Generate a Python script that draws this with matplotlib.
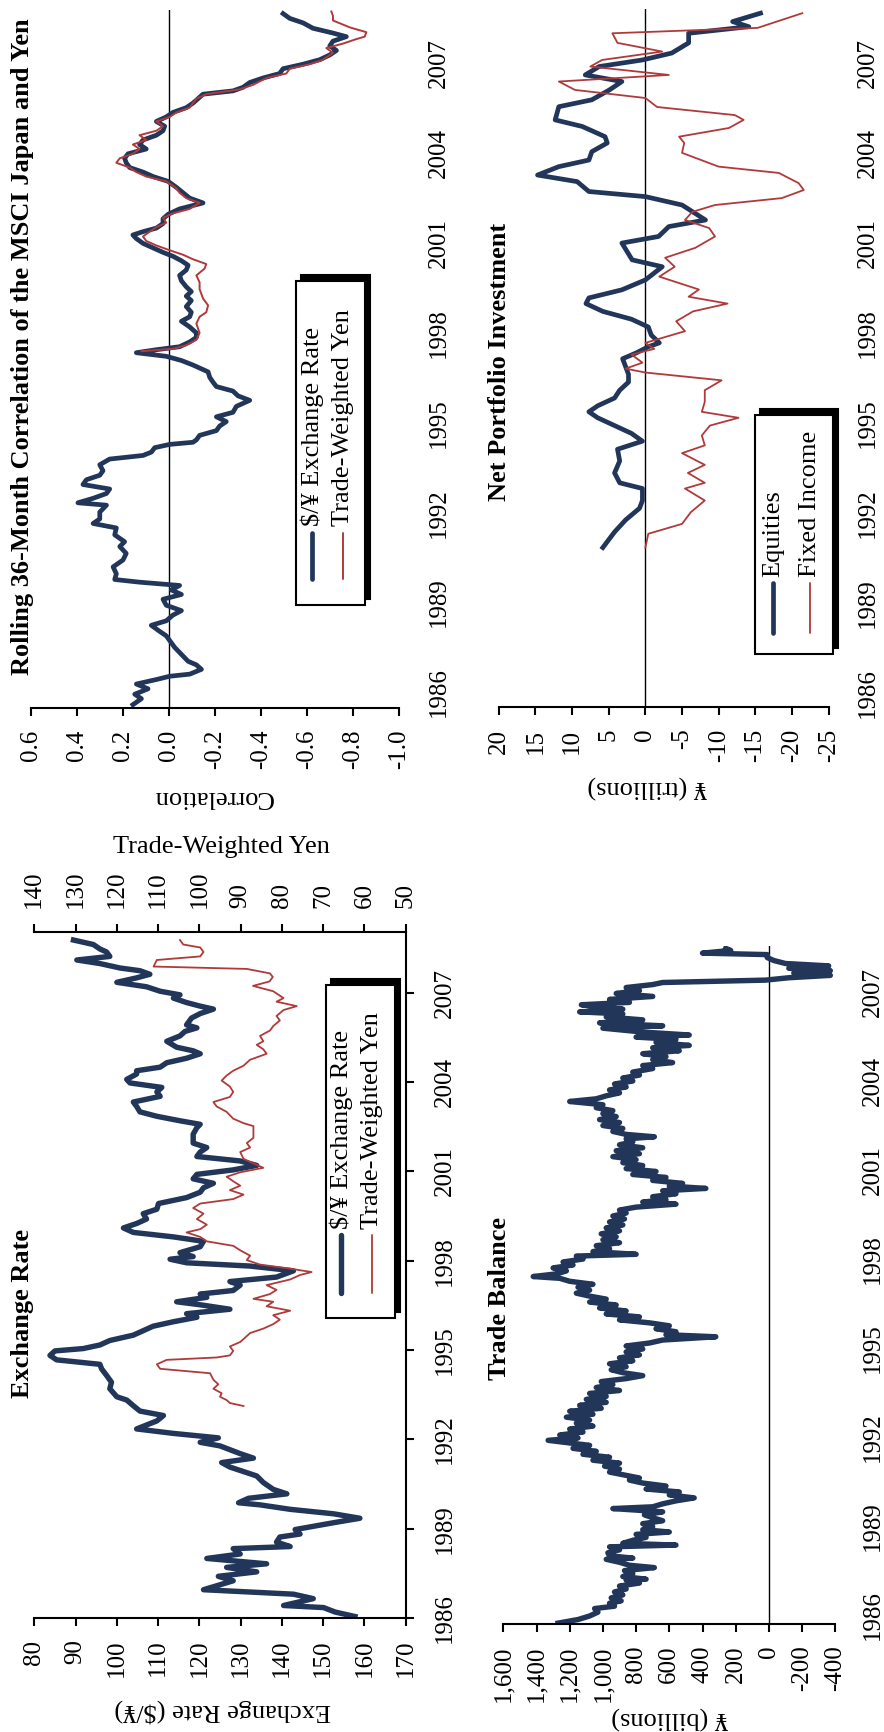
"""Japan dashboard: exchange rate, correlation, trade balance, portfolio flows.

The page is laid out in portrait, so every panel is drawn sideways:
dates run up the page and the value axes run across it.
"""

import matplotlib

matplotlib.use("Agg")
import matplotlib.pyplot as plt
from matplotlib.lines import Line2D
from matplotlib.patches import Rectangle

plt.rcParams["font.family"] = ["Liberation Serif", "DejaVu Serif"]
plt.rcParams["axes.unicode_minus"] = False

W, H = 884, 1732
NAVY = "#22365a"
RED = "#b03a3a"
YEARS = [1986, 1989, 1992, 1995, 1998, 2001, 2004, 2007]

# ---- Exchange rate ($/yen) and trade-weighted yen -------------------------
er_dates = [
    1986.05, 1986.20, 1986.35, 1986.42, 1986.65, 1986.80, 1986.95, 1987.25, 1987.40, 1987.55,
    1987.70, 1987.82, 1988.00, 1988.15, 1988.33, 1988.40, 1988.55, 1988.72, 1988.82, 1988.97,
    1989.20, 1989.35, 1989.50, 1989.65, 1989.80, 1989.87, 1990.02, 1990.17, 1990.32, 1990.55,
    1990.77, 1991.07, 1991.22, 1991.37, 1991.52, 1991.78, 1991.90, 1992.05, 1992.20, 1992.35,
    1992.62, 1992.80, 1992.95, 1993.13, 1993.32, 1993.43, 1993.70, 1993.92, 1994.15, 1994.37,
    1994.52, 1994.67, 1994.82, 1994.97, 1995.05, 1995.17, 1995.32, 1995.50, 1995.65, 1995.80,
    1995.95, 1996.10, 1996.22, 1996.37, 1996.52, 1996.62, 1996.77, 1996.88, 1997.00, 1997.18,
    1997.30, 1997.45, 1997.66, 1997.82, 1997.93, 1998.05, 1998.14, 1998.27, 1998.47, 1998.65,
    1998.80, 1998.95, 1999.10, 1999.25, 1999.40, 1999.58, 1999.73, 1999.92, 2000.12, 2000.30,
    2000.45, 2000.60, 2000.75, 2000.90, 2001.05, 2001.20, 2001.35, 2001.50, 2001.65, 2001.80,
    2001.95, 2002.25, 2002.47, 2002.58, 2002.70, 2002.85, 2003.00, 2003.18, 2003.33, 2003.52,
    2003.67, 2003.82, 2003.97, 2004.09, 2004.27, 2004.38, 2004.50, 2004.65, 2004.80, 2004.95,
    2005.05, 2005.17, 2005.37, 2005.55, 2005.70, 2005.82, 2005.92, 2006.15, 2006.30, 2006.45,
    2006.55, 2006.67, 2006.82, 2006.93, 2007.05, 2007.20, 2007.35, 2007.50, 2007.62, 2007.74,
    2007.83, 2007.98, 2008.10, 2008.22, 2008.37, 2008.47, 2008.62, 2008.77,
]
er_rate = [
    157.7, 152.9, 150.1, 140.4, 147.6, 142.8, 121.0, 128.2, 124.6, 133.9,
    126.6, 136.3, 121.8, 129.9, 128.2, 142.0, 138.7, 139.5, 144.4, 143.2,
    152.5, 158.9, 152.5, 142.0, 134.7, 129.5, 131.9, 141.2, 137.9, 135.5,
    133.9, 127.4, 125.4, 133.1, 129.9, 125.0, 120.2, 124.6, 113.7, 104.8,
    109.7, 111.3, 105.6, 104.0, 102.4, 100.0, 98.3, 98.7, 97.5, 96.3,
    95.9, 85.4, 83.8, 85.0, 91.9, 95.9, 98.3, 104.0, 106.4, 108.8,
    113.7, 119.4, 116.9, 127.4, 120.2, 114.5, 121.8, 120.2, 128.2, 129.9,
    127.4, 138.7, 142.8, 132.3, 116.9, 112.9, 118.5, 115.3, 120.2, 121.0,
    113.7, 104.0, 101.6, 104.8, 107.2, 106.4, 109.7, 110.1, 116.9, 120.2,
    121.0, 123.4, 118.5, 119.4, 128.2, 133.9, 129.9, 119.4, 120.2, 121.8,
    118.5, 118.5, 119.4, 120.2, 115.3, 109.7, 105.6, 104.8, 104.0, 110.5,
    109.7, 110.9, 103.2, 102.4, 104.8, 104.8, 110.5, 112.1, 116.9, 120.2,
    118.5, 114.5, 112.1, 115.3, 116.5, 119.4, 116.9, 118.1, 120.2, 123.4,
    120.2, 116.9, 113.7, 115.3, 110.5, 107.2, 100.0, 104.8, 108.0, 105.6,
    100.8, 95.9, 90.3, 98.3, 97.5, 95.9, 94.3, 89.5,
]
twy_dates = [
    1993.12, 1993.22, 1993.32, 1993.43, 1993.55, 1993.70, 1993.85, 1994.00, 1994.22, 1994.37,
    1994.52, 1994.67, 1994.75, 1994.82, 1994.97, 1995.12, 1995.27, 1995.42, 1995.57, 1995.72,
    1995.87, 1996.02, 1996.17, 1996.32, 1996.47, 1996.62, 1996.72, 1996.88, 1997.02, 1997.18,
    1997.37, 1997.52, 1997.62, 1997.75, 1997.87, 1998.02, 1998.17, 1998.35, 1998.50, 1998.65,
    1998.80, 1998.95, 1999.06, 1999.21, 1999.40, 1999.58, 1999.77, 1999.92, 2000.07, 2000.22,
    2000.37, 2000.52, 2000.67, 2000.82, 2000.97, 2001.12, 2001.27, 2001.42, 2001.65, 2001.80,
    2001.95, 2002.13, 2002.32, 2002.52, 2002.62, 2002.77, 2003.00, 2003.18, 2003.33, 2003.50,
    2003.67, 2003.85, 2004.05, 2004.22, 2004.38, 2004.55, 2004.75, 2004.95, 2005.10, 2005.25,
    2005.37, 2005.55, 2005.73, 2005.88, 2006.07, 2006.22, 2006.42, 2006.55, 2006.70, 2006.82,
    2007.05, 2007.23, 2007.38, 2007.53, 2007.65, 2007.80, 2007.88, 2008.10, 2008.22, 2008.37,
    2008.52, 2008.62, 2008.77,
]
twy_index = [
    89.3, 92.6, 93.4, 95.0, 94.6, 96.6, 95.4, 96.6, 97.4, 109.5,
    110.3, 107.9, 95.8, 92.6, 91.8, 92.6, 90.1, 88.9, 87.7, 84.5,
    82.1, 80.5, 82.1, 78.0, 83.7, 82.1, 86.9, 82.9, 81.3, 83.7,
    78.0, 75.6, 72.8, 78.8, 85.3, 88.5, 87.7, 90.1, 91.8, 98.2,
    99.8, 103.1, 99.8, 98.2, 100.6, 99.0, 101.5, 99.8, 91.8, 89.3,
    92.6, 90.1, 91.8, 93.4, 90.1, 84.5, 86.9, 89.3, 90.1, 87.7,
    88.5, 86.9, 86.9, 86.9, 89.3, 91.8, 93.4, 95.8, 96.6, 92.6,
    91.8, 92.6, 94.6, 93.4, 91.8, 89.3, 87.7, 83.7, 84.5, 86.1,
    84.5, 85.3, 82.9, 82.1, 80.5, 81.3, 79.6, 76.4, 81.3, 79.6,
    82.1, 87.0, 83.0, 82.2, 82.9, 88.5, 111.1, 110.3, 99.8, 99.0,
    99.8, 103.9, 104.7,
]

# ---- Rolling 36-month correlation with MSCI Japan -------------------------
corr_usd_dates = [
    1985.59, 1985.79, 1985.94, 1986.12, 1986.28, 1986.43, 1986.54, 1986.61, 1986.77, 1986.92,
    1987.04, 1987.27, 1987.50, 1987.73, 1987.89, 1988.04, 1988.24, 1988.39, 1988.58, 1988.73,
    1988.91, 1989.11, 1989.27, 1989.42, 1989.57, 1989.68, 1989.77, 1989.96, 1990.19, 1990.42,
    1990.64, 1990.87, 1991.03, 1991.26, 1991.49, 1991.64, 1991.79, 1992.02, 1992.25, 1992.33,
    1992.48, 1992.64, 1992.79, 1992.94, 1993.10, 1993.25, 1993.40, 1993.60, 1993.79, 1993.91,
    1994.02, 1994.17, 1994.28, 1994.35, 1994.43, 1994.58, 1994.74, 1994.89, 1995.04, 1995.20,
    1995.35, 1995.55, 1995.75, 1995.90, 1996.06, 1996.21, 1996.36, 1996.52, 1996.70, 1996.93,
    1997.08, 1997.22, 1997.34, 1997.44, 1997.54, 1997.70, 1997.85, 1998.00, 1998.20, 1998.39,
    1998.54, 1998.69, 1998.88, 1999.08, 1999.23, 1999.38, 1999.54, 1999.74, 1999.92, 2000.10,
    2000.26, 2000.41, 2000.56, 2000.69, 2000.84, 2000.99, 2001.15, 2001.27, 2001.38, 2001.50,
    2001.65, 2001.81, 2001.96, 2002.14, 2002.34, 2002.50, 2002.68, 2002.86, 2003.06, 2003.22,
    2003.37, 2003.52, 2003.68, 2003.83, 2003.98, 2004.14, 2004.29, 2004.44, 2004.60, 2004.75,
    2004.90, 2005.06, 2005.21, 2005.36, 2005.52, 2005.67, 2005.82, 2005.97, 2006.08, 2006.20,
    2006.36, 2006.51, 2006.66, 2006.82, 2006.97, 2007.12, 2007.28, 2007.43, 2007.58, 2007.74,
    2007.89, 2008.01, 2008.17, 2008.35, 2008.50, 2008.66,
]
corr_usd = [
    0.157, 0.120, 0.149, 0.091, 0.142, 0.055, -0.003, -0.090, -0.141, -0.119,
    -0.083, -0.054, -0.025, -0.003, 0.012, 0.041, 0.077, 0.012, -0.017, -0.054,
    0.012, 0.026, -0.054, -0.010, -0.046, 0.128, 0.236, 0.229, 0.243, 0.200,
    0.186, 0.214, 0.193, 0.236, 0.229, 0.330, 0.301, 0.301, 0.272, 0.396,
    0.330, 0.272, 0.258, 0.374, 0.359, 0.301, 0.287, 0.301, 0.258, 0.113,
    0.077, 0.062, -0.003, -0.104, -0.119, -0.133, -0.206, -0.220, -0.249, -0.206,
    -0.278, -0.293, -0.351, -0.300, -0.278, -0.206, -0.191, -0.177, -0.170, -0.104,
    -0.054, 0.012, 0.142, 0.055, -0.046, -0.090, -0.119, -0.119, -0.090, -0.054,
    -0.090, -0.097, -0.075, -0.097, -0.075, -0.097, -0.075, -0.054, -0.046, -0.075,
    -0.083, -0.054, -0.017, 0.026, 0.069, 0.113, 0.142, 0.157, 0.113, 0.055,
    0.026, 0.026, 0.004, -0.046, -0.148, -0.090, -0.061, -0.032, 0.004, 0.069,
    0.113, 0.171, 0.186, 0.193, 0.178, 0.099, 0.128, 0.113, 0.055, 0.026,
    0.019, 0.055, 0.012, -0.017, -0.075, -0.104, -0.126, -0.148, -0.278, -0.322,
    -0.351, -0.409, -0.481, -0.496, -0.583, -0.655, -0.699, -0.728, -0.699, -0.713,
    -0.771, -0.713, -0.626, -0.583, -0.525, -0.496,
]
corr_twy_dates = [
    1997.39, 1997.47, 1997.59, 1997.77, 1998.00, 1998.31, 1998.54, 1998.69, 1998.92, 1999.15,
    1999.46, 1999.69, 1999.92, 2000.15, 2000.30, 2000.46, 2000.61, 2000.76, 2000.92, 2001.07,
    2001.22, 2001.38, 2001.53, 2001.68, 2001.84, 2001.99, 2002.14, 2002.34, 2002.50, 2002.68,
    2002.83, 2003.06, 2003.22, 2003.37, 2003.52, 2003.68, 2003.83, 2003.98, 2004.14, 2004.29,
    2004.44, 2004.60, 2004.75, 2004.90, 2005.06, 2005.21, 2005.36, 2005.52, 2005.67, 2005.82,
    2005.97, 2006.13, 2006.28, 2006.51, 2006.66, 2006.82, 2006.97, 2007.12, 2007.35, 2007.51,
    2007.66, 2007.81, 2007.89, 2008.04, 2008.20, 2008.43, 2008.58, 2008.73,
]
corr_twy = [
    0.120, -0.017, -0.075, -0.119, -0.133, -0.119, -0.133, -0.162, -0.170, -0.148,
    -0.133, -0.133, -0.119, -0.155, -0.162, -0.104, -0.061, -0.003, 0.055, 0.099,
    0.113, 0.084, 0.055, 0.012, 0.026, -0.017, -0.090, -0.133, -0.075, -0.046,
    -0.032, 0.012, 0.099, 0.142, 0.171, 0.229, 0.214, 0.157, 0.128, 0.157,
    0.099, 0.128, 0.055, 0.026, 0.055, -0.003, -0.032, -0.090, -0.104, -0.119,
    -0.162, -0.307, -0.365, -0.423, -0.510, -0.525, -0.612, -0.670, -0.713, -0.684,
    -0.757, -0.815, -0.851, -0.858, -0.786, -0.713, -0.713, -0.706,
]

# ---- Trade balance (yen billions) -----------------------------------------
tb_dates = [
    1985.73, 1985.85, 1985.97, 1986.10, 1986.22, 1986.30, 1986.40, 1986.48, 1986.58, 1986.68,
    1986.78, 1986.88, 1986.98, 1987.08, 1987.18, 1987.21, 1987.30, 1987.40, 1987.50, 1987.60,
    1987.68, 1987.78, 1987.88, 1987.92, 1988.00, 1988.10, 1988.20, 1988.30, 1988.36, 1988.42,
    1988.52, 1988.62, 1988.72, 1988.80, 1988.88, 1988.98, 1989.08, 1989.18, 1989.28, 1989.38,
    1989.48, 1989.59, 1989.65, 1989.75, 1989.85, 1989.95, 1990.05, 1990.15, 1990.25, 1990.35,
    1990.45, 1990.55, 1990.62, 1990.72, 1990.82, 1990.92, 1991.02, 1991.12, 1991.22, 1991.32,
    1991.42, 1991.52, 1991.62, 1991.72, 1991.82, 1991.89, 1991.97, 1992.07, 1992.17, 1992.27,
    1992.37, 1992.47, 1992.57, 1992.67, 1992.77, 1992.87, 1992.97, 1993.07, 1993.17, 1993.27,
    1993.37, 1993.47, 1993.57, 1993.67, 1993.77, 1993.87, 1993.97, 1994.07, 1994.17, 1994.27,
    1994.37, 1994.47, 1994.57, 1994.67, 1994.77, 1994.87, 1994.97, 1995.07, 1995.17, 1995.27,
    1995.38, 1995.45, 1995.55, 1995.65, 1995.75, 1995.85, 1995.95, 1996.05, 1996.15, 1996.25,
    1996.35, 1996.45, 1996.55, 1996.65, 1996.75, 1996.85, 1996.95, 1997.05, 1997.15, 1997.25,
    1997.35, 1997.41, 1997.50, 1997.60, 1997.70, 1997.80, 1997.90, 1998.00, 1998.10, 1998.16,
    1998.25, 1998.35, 1998.45, 1998.55, 1998.65, 1998.75, 1998.85, 1998.95, 1999.05, 1999.15,
    1999.25, 1999.35, 1999.45, 1999.55, 1999.65, 1999.75, 1999.85, 1999.92, 2000.00, 2000.10,
    2000.20, 2000.30, 2000.38, 2000.46, 2000.55, 2000.65, 2000.75, 2000.85, 2000.95, 2001.05,
    2001.15, 2001.25, 2001.35, 2001.45, 2001.55, 2001.65, 2001.75, 2001.85, 2001.95, 2002.05,
    2002.12, 2002.20, 2002.30, 2002.40, 2002.50, 2002.60, 2002.70, 2002.80, 2002.90, 2003.00,
    2003.10, 2003.20, 2003.31, 2003.40, 2003.50, 2003.60, 2003.70, 2003.80, 2003.90, 2004.00,
    2004.10, 2004.20, 2004.30, 2004.42, 2004.52, 2004.62, 2004.72, 2004.82, 2004.92, 2005.02,
    2005.12, 2005.20, 2005.30, 2005.40, 2005.48, 2005.55, 2005.65, 2005.78, 2005.86, 2005.96,
    2006.06, 2006.16, 2006.26, 2006.33, 2006.42, 2006.50, 2006.57, 2006.65, 2006.75, 2006.85,
    2006.95, 2007.05, 2007.15, 2007.25, 2007.32, 2007.40, 2007.48, 2007.56, 2007.64, 2007.72,
    2007.80, 2007.88, 2007.96, 2008.06, 2008.16, 2008.26, 2008.31, 2008.40, 2008.47,
]
tb_balance = [
    1270, 1150, 1080, 1030, 1050, 930, 960, 890, 950, 880,
    930, 860, 900, 780, 860, 740, 880, 820, 870, 690,
    840, 900, 980, 820, 960, 970, 900, 960, 560, 880,
    820, 740, 800, 600, 760, 700, 760, 640, 700, 750,
    640, 940, 700, 640, 560, 450, 600, 540, 740, 620,
    760, 840, 780, 870, 960, 900, 990, 900, 1060, 960,
    1120, 1040, 1180, 1080, 1230, 1330, 1150, 1260, 1120, 1200,
    1060, 1160, 1080, 1220, 1060, 1200, 1010, 1140, 980, 1100,
    980, 1080, 900, 1040, 940, 1010, 860, 760, 880, 950,
    860, 960, 820, 900, 780, 860, 760, 860, 720, 640,
    320, 620, 560, 680, 600, 720, 900, 780, 980, 860,
    1020, 920, 1080, 980, 1080, 1160, 1080, 1150, 1060, 1200,
    1260, 1420, 1280, 1220, 1300, 1180, 1240, 1120, 1160, 800,
    1060, 960, 1040, 900, 1000, 920, 1010, 900, 980, 880,
    960, 870, 940, 860, 900, 800, 560, 760, 620, 700,
    560, 640, 380, 600, 520, 700, 620, 820, 680, 860,
    760, 880, 800, 940, 780, 920, 760, 900, 820, 860,
    690, 860, 940, 880, 1000, 900, 1020, 920, 1000, 940,
    1040, 1000, 1200, 1040, 980, 900, 960, 860, 930, 820,
    880, 780, 820, 700, 760, 580, 700, 620, 760, 540,
    700, 480, 680, 560, 800, 480, 760, 1000, 640, 1020,
    760, 980, 880, 1140, 880, 1040, 1130, 840, 960, 700,
    920, 780, 860, 700, 640, 20, -120, -370, -150, -370,
    -120, -360, -100, -30, 10, 10, 400, 230, 260,
]

# ---- Net portfolio investment (yen trillions) -----------------------------
npi_eq_dates = [
    1990.84, 1991.10, 1991.36, 1991.76, 1992.15, 1992.41, 1992.81, 1993.00, 1993.33, 1993.73,
    1994.12, 1994.39, 1994.65, 1994.91, 1995.17, 1995.37, 1995.57, 1995.83, 1996.09, 1996.36,
    1996.62, 1996.88, 1997.14, 1997.34, 1997.54, 1997.67, 1997.93, 1998.20, 1998.46, 1998.72,
    1998.98, 1999.17, 1999.44, 1999.77, 2000.21, 2000.44, 2001.00, 2001.22, 2001.55, 2001.77,
    2002.27, 2002.55, 2002.72, 2003.05, 2003.27, 2003.55, 2003.77, 2004.05, 2004.34, 2004.55,
    2004.89, 2005.11, 2005.55, 2005.78, 2006.11, 2006.39, 2006.61, 2006.89, 2007.11, 2007.34,
    2007.68, 2008.00, 2008.22, 2008.39, 2008.67,
]
npi_equities = [
    5.8, 5.0, 4.2, 2.7, 0.8, 0.4, 0.4, 3.5, 4.2, 3.5,
    3.8, 0.4, 1.9, 4.2, 6.5, 7.7, 6.5, 4.2, 3.5, 2.3,
    2.3, 2.7, 3.1, 1.2, -0.4, -1.9, -0.8, -0.4, 1.9, 5.8,
    8.1, 7.7, 3.2, 0.0, -2.3, 1.8, 3.2, -1.8, -3.2, -8.2,
    -5.0, 0.0, 7.7, 9.3, 14.7, 11.8, 7.7, 7.3, 5.2, 5.5,
    8.6, 12.3, 11.8, 7.3, 4.9, 3.2, 8.2, 6.3, 0.4, -3.6,
    -5.9, -5.9, -14.1, -11.9, -15.7,
]
npi_fi_dates = [
    1990.84, 1991.30, 1991.63, 1992.02, 1992.41, 1992.81, 1993.00, 1993.33, 1993.60, 1993.99,
    1994.25, 1994.58, 1994.91, 1995.17, 1995.37, 1995.70, 1996.09, 1996.42, 1996.68, 1996.81,
    1997.01, 1997.28, 1997.47, 1997.67, 1998.06, 1998.39, 1998.72, 1998.98, 1999.21, 1999.45,
    1999.88, 2000.21, 2000.51, 2000.84, 2001.22, 2001.50, 2001.77, 2002.04, 2002.27, 2002.50,
    2002.77, 2003.00, 2003.34, 2003.55, 2004.01, 2004.34, 2004.55, 2004.84, 2005.11, 2005.27,
    2005.54, 2005.84, 2006.11, 2006.39, 2006.61, 2006.89, 2007.11, 2007.39, 2007.68, 2008.00,
    2008.18, 2008.67,
]
npi_fixed_income = [
    0.0, -0.4, -5.0, -6.2, -8.1, -5.4, -8.1, -5.8, -8.1, -5.0,
    -8.1, -7.7, -8.8, -12.7, -7.7, -8.1, -8.1, -10.4, 0.0, 2.7,
    0.4, 1.9, -1.2, 0.0, -5.4, -4.2, -6.5, -11.2, -5.9, -7.3,
    -1.9, -4.0, -2.7, -6.8, -9.5, -8.7, -5.4, -6.4, -9.5, -18.6,
    -21.6, -20.9, -18.2, -10.0, -5.0, -5.3, -4.6, -11.4, -13.4, -12.2,
    -1.6, 0.0, 9.6, 11.8, -3.2, 7.5, 5.9, -2.3, 3.8, 4.5,
    -15.3, -21.4,
]


def box(left, top, right, bottom):
    """Axes rect from page pixels (y measured from the top)."""
    return [left / W, 1 - bottom / H, (right - left) / W, (bottom - top) / H]


def at(x, y):
    return x / W, 1 - y / H


def date_axis(ax, lo, hi, pad, ticks=False):
    ax.set_ylim(lo, hi)
    ax.yaxis.tick_right()
    ax.set_yticks(YEARS)
    ax.set_yticklabels([str(y) for y in YEARS], rotation=90, va="center", fontsize=18)
    ax.tick_params(axis="y", direction="out", length=6 if ticks else 0, width=1.5, pad=pad)


def value_axis(ax, lo, hi, ticks, labels):
    ax.set_xlim(lo, hi)
    ax.set_xticks(ticks)
    ax.set_xticklabels(labels, rotation=90, fontsize=18)
    ax.tick_params(axis="x", direction="out", length=6, width=1.5, pad=9.5)
    for side in ("top", "left", "right"):
        ax.spines[side].set_visible(False)
    ax.spines["bottom"].set_linewidth(1.5)


def legend(fig, left, top, right, bottom, entries, line_top, line_bottom, text_from):
    w, h = (right - left) / W, (bottom - top) / H
    fig.add_artist(Rectangle(at(left + 5, bottom - 6), w, h, transform=fig.transFigure,
                             facecolor="black", edgecolor="black", lw=1.5))
    fig.add_artist(Rectangle(at(left, bottom), w, h, transform=fig.transFigure,
                             facecolor="white", edgecolor="black", lw=1.5))
    for x, label, color, lw in entries:
        fig.add_artist(Line2D([x / W, x / W], [1 - line_bottom / H, 1 - line_top / H],
                              color=color, lw=lw, solid_capstyle="round",
                              transform=fig.transFigure))
        fig.text(x / W, 1 - text_from / H, label, rotation=90, ha="center", va="bottom",
                 fontsize=19)


fig = plt.figure(figsize=(W / 100, H / 100), dpi=100)

# Exchange rate panel
ax_er = fig.add_axes(box(34.3, 932, 405.7, 1618))
ax_er.plot(er_rate, er_dates, color=NAVY, lw=3.9)
value_axis(ax_er, 80, 170, list(range(80, 171, 10)), [str(v) for v in range(80, 171, 10)])
ax_er.spines["right"].set_visible(True)
ax_er.spines["right"].set_linewidth(1.5)
date_axis(ax_er, 1986.0, 2009.04, pad=14, ticks=True)

ax_tw = ax_er.twiny()
ax_tw.plot(twy_index, twy_dates, color=RED, lw=1.3)
ax_tw.set_xlim(140, 50)
ax_tw.set_xticks(list(range(140, 49, -10)))
ax_tw.set_xticklabels([str(v) for v in range(140, 49, -10)], rotation=90, fontsize=18)
ax_tw.tick_params(axis="x", direction="out", length=6, width=1.5, pad=11)
for side in ("bottom", "left", "right"):
    ax_tw.spines[side].set_visible(False)
ax_tw.spines["top"].set_linewidth(1.5)

# Correlation panel
ax_co = fig.add_axes(box(31, 10, 399, 708))
ax_co.axvline(0, color="black", lw=1.0)
ax_co.plot(corr_usd, corr_usd_dates, color=NAVY, lw=3.4)
ax_co.plot(corr_twy, corr_twy_dates, color=RED, lw=1.4)
corr_ticks = [0.6, 0.4, 0.2, 0.0, -0.2, -0.4, -0.6, -0.8, -1.0]
value_axis(ax_co, 0.6, -1.0, corr_ticks, [f"{v:.1f}" for v in corr_ticks])
date_axis(ax_co, 1985.48, 2008.78, pad=21)

# Trade balance panel
ax_tb = fig.add_axes(box(503.3, 946, 835.3, 1624))
ax_tb.axvline(0, color="black", lw=1.0)
ax_tb.plot(tb_balance, tb_dates, color=NAVY, lw=3.9)
tb_ticks = list(range(1600, -401, -200))
value_axis(ax_tb, 1600, -400, tb_ticks, [f"{v:,}" for v in tb_ticks])
date_axis(ax_tb, 1985.70, 2008.55, pad=19)

# Net portfolio investment panel
ax_np = fig.add_axes(box(498.7, 9.3, 828.7, 707))
ax_np.axvline(0, color="black", lw=1.0)
ax_np.plot(npi_equities, npi_eq_dates, color=NAVY, lw=3.4)
ax_np.plot(npi_fixed_income, npi_fi_dates, color=RED, lw=1.3)
np_ticks = list(range(20, -26, -5))
value_axis(ax_np, 20, -25, np_ticks, [str(v) for v in np_ticks])
date_axis(ax_np, 1985.52, 2008.80, pad=20)

# titles (read bottom-to-top on the page)
for (x, y), title in [((22.5, 1313), "Exchange Rate"),
                      ((499, 1298), "Trade Balance"),
                      ((23, 347), "Rolling 36-Month Correlation of the MSCI Japan and Yen"),
                      ((499, 362), "Net Portfolio Investment")]:
    fig.text(*at(x, y), title, rotation=90, ha="center", va="center",
             fontsize=19, fontweight="bold")

# value-axis captions
for (x, y), text, rot in [((222.5, 1711), "Exchange Rate ($/¥)", 180),
                          ((670, 1718), "¥ (billions)", 180),
                          ((213, 797), "Correlation", 180),
                          ((647, 787), "¥ (trillions)", 180),
                          ((221, 847), "Trade-Weighted Yen", 0)]:
    fig.text(*at(x, y), text, rotation=rot, ha="center", va="center", fontsize=19)

legend(fig, 326, 985, 395, 1318,
       [(341, "$/¥ Exchange Rate", NAVY, 3.9), (372, "Trade-Weighted Yen", RED, 1.3)],
       1235, 1293, 1229)
legend(fig, 296, 281, 365, 605,
       [(312, "$/¥ Exchange Rate", NAVY, 3.4), (343, "Trade-Weighted Yen", RED, 1.4)],
       533, 579, 526)
legend(fig, 755, 415, 833, 654,
       [(773, "Equities", NAVY, 3.4), (810, "Fixed Income", RED, 1.3)],
       583, 633, 577)

fig.savefig("out.png", dpi=100)
